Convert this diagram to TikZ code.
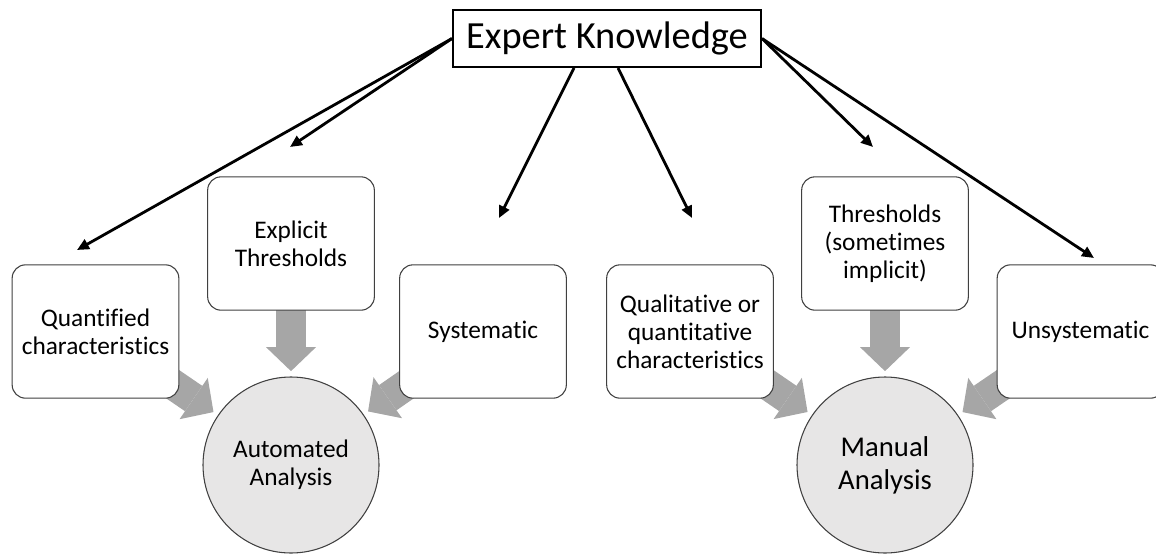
\documentclass[tikz,border=0pt]{standalone}
\usepackage{fontspec}
\setmainfont{Carlito}[Ligatures=NoCommon]
\usetikzlibrary{arrows.meta,backgrounds}

\definecolor{boxline}{HTML}{404040}
\definecolor{fatgray}{HTML}{A6A6A6}
\definecolor{discfill}{HTML}{E7E6E6}

\begin{document}
\begin{tikzpicture}[
  x=0.75pt, y=-0.75pt,
  card/.style={draw=boxline, line width=0.8pt, rounded corners=10pt, fill=white,
    minimum width=125pt, minimum height=100pt, inner sep=1pt, align=center,
    font=\fontsize{19}{21}\selectfont},
  disc/.style={circle, draw=boxline, line width=0.8pt, fill=discfill,
    minimum size=132pt, inner sep=0pt, align=center,
    font=\fontsize{19}{21}\selectfont},
  link/.style={-{Triangle[length=9pt,width=8pt]}, line width=2.1pt},
  fat/.style={draw=fatgray, line width=23pt,
    -{Triangle[length=18pt,width=37.5pt,line width=0pt]}, shorten >=4pt}
]

% Parâmetros gerais (px)
\def\rowA{243.5}  % linha dos cartões altos
\def\rowB{331.5}  % linha dos cartões baixos
\def\rowC{465}    % linha dos círculos

\useasboundingbox (0,0) rectangle (1156,554);

% ==========================================================
% Topo
% ==========================================================
\node[draw, line width=1.5pt, minimum width=231pt, minimum height=42.75pt,
  inner sep=0pt, font=\fontsize{28.8}{33}\selectfont] (expert) at (607,38.5)
  {Expert Knowledge};

% ==========================================================
% Lado automático
% ==========================================================
\node[card] (quant) at (95.5,\rowB) {Quantified\\characteristics};
\node[card] (explicit) at (291,\rowA) {Explicit\\Thresholds};
\node[card] (syst) at (483,\rowB) {Systematic};
\node[disc] (auto) at (291,\rowC) {Automated\\Analysis};

% ==========================================================
% Lado manual
% ==========================================================
\node[card] (qual) at (690,\rowB) {Qualitative or\\quantitative\\characteristics};
\node[card] (implicit) at (885,\rowA) {Thresholds\\(sometimes\\implicit)};
\node[card] (unsyst) at (1080.5,\rowB) {Unsystematic};
\node[disc, font=\fontsize{21.5}{24.75}\selectfont] (manual) at (885,\rowC)
  {Manual\\Analysis};

% setas grossas por trás
\begin{pgfonlayer}{background}
  \foreach \src/\dst in {quant/auto, explicit/auto, syst/auto,
                         qual/manual, implicit/manual, unsyst/manual}
    \draw[fat] (\src.center) -- (\dst);
\end{pgfonlayer}

% ==========================================================
% Setas finas
% ==========================================================
\coordinate (qtip) at (77,250);
\coordinate (etip) at (290,147);
\coordinate (stip) at (499,218);
\coordinate (ltip) at (692,218);
\coordinate (ttip) at (873,147);
\coordinate (utip) at (1094,258);

\draw[link] (expert.west) -- (qtip);
\draw[link] (expert.west) -- (etip);
\draw[link] ([xshift=-24.75pt]expert.south) -- (stip);
\draw[link] ([xshift=8.25pt]expert.south) -- (ltip);
\draw[link] (expert.east) -- (ttip);
\draw[link] (expert.east) -- (utip);

\end{tikzpicture}
\end{document}
